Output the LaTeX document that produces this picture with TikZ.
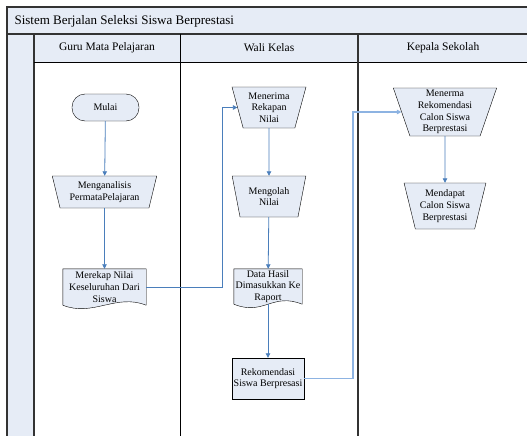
\documentclass[tikz,border=0pt]{standalone}
\usepackage{fontspec}
\setmainfont{Liberation Serif}
\usetikzlibrary{shapes.geometric,arrows.meta,backgrounds}
\definecolor{lanefill}{HTML}{E6ECF6}
\definecolor{flowblue}{HTML}{4A7EBB}
\definecolor{lightflow}{HTML}{8DB3E2}
\definecolor{framegray}{HTML}{333333}
\begin{document}
\begin{tikzpicture}[
    x=1pt, y=-1pt,
    every node/.style={font=\fontsize{10}{11.6}\selectfont, align=center},
    box/.style={draw, fill=lanefill, inner sep=1pt},
    terminal/.style={box, rounded corners=13pt, minimum width=67pt, minimum height=27pt},
    manual/.style={box, trapezium, shape border rotate=180, trapezium stretches=true,
      trapezium angle=73.5, inner sep=0pt},
    docbox/.style={inner sep=0pt},
    lanehead/.style={font=\fontsize{11.5}{13}\selectfont},
    flow/.style={draw=flowblue, line width=0.8pt, -{Triangle[length=4.5pt,width=4.5pt]}},
    longflow/.style={flow, draw=lightflow, line width=1.1pt},
  ]
  \useasboundingbox (0,0) rectangle (527,436);
  \clip (0,0) rectangle (527,436);

  % pool and lanes
  \fill[lanefill] (7,7) rectangle (540,34);
  \fill[lanefill] (34,34) rectangle (540,62);
  \fill[lanefill] (7,34) rectangle (34,450);
  \draw[framegray, line width=1.6pt] (7,450) -- (7,7) -- (540,7);
  \draw[framegray, line width=1.2pt] (7,34) -- (540,34);
  \draw[framegray, line width=1.2pt] (34,34) -- (34,450);
  \draw[line width=0.8pt] (34,62) -- (540,62);
  \draw[line width=0.8pt] (180,34) -- (180,450);
  \draw[framegray, line width=1.6pt] (358,34) -- (358,450);

  \node[anchor=west, font=\fontsize{13}{15}\selectfont] (judul) at (11,21) {Sistem Berjalan Seleksi Siswa Berprestasi};
  \node[lanehead] (guru) at (107,48) {Guru Mata Pelajaran};
  \node[lanehead] (wali) at (269,48) {Wali Kelas};
  \node[lanehead] (kepsek) at (443,48) {Kepala Sekolah};

  % guru mata pelajaran
  \node[terminal] (mulai) at (105.5,107.5) {Mulai};
  \node[manual, minimum width=105pt, minimum height=32pt] (analisis) at (104.5,192) {Menganalisis\\PermataPelajaran};
  \node[docbox, minimum width=83pt, minimum height=36pt] (rekap) at (104.5,287) {Merekap Nilai\\Keseluruhan Dari\\Siswa};

  % wali kelas
  \node[manual, minimum width=74pt, minimum height=41pt] (terima) at (269,107.5) {Menerima\\Rekapan\\Nilai};
  \node[manual, minimum width=74pt, minimum height=41pt] (olah) at (269,196.5) {Mengolah\\Nilai};
  \node[docbox, minimum width=68pt, minimum height=35pt] (raport) at (268,286.5) {Data Hasil\\Dimasukkan Ke\\Raport};
  \node[box, minimum width=72pt, minimum height=41pt] (rekom) at (268,378.5) {Rekomendasi\\Siswa Berpresasi};

  % kepala sekolah
  \node[manual, minimum width=104pt, minimum height=48pt] (terimarek) at (445,112) {Menerma\\Rekomendasi\\Calon Siswa\\Berprestasi};
  \node[manual, minimum width=82pt, minimum height=46pt] (dapat) at (445,206) {Mendapat\\Calon Siswa\\Berprestasi};

  \begin{scope}[on background layer]
    \foreach \d in {rekap,raport}
      \draw[fill=lanefill] (\d.north west) -- (\d.north east) -- (\d.south east)
        .. controls +(-30,-12) and +(30,12) .. (\d.south west) -- cycle;
  \end{scope}

  \coordinate (bendA) at (222,0);
  \coordinate (bendB) at (353,0);

  \draw[flow] (mulai) -- (analisis);
  \draw[flow] (analisis) -- (rekap);
  \draw[flow] (rekap.east) -| (bendA |- terima.west) -- (terima.west);
  \draw[flow] (terima) -- (olah);
  \draw[flow] (olah) -- (raport);
  \draw[flow] (raport.south) -- (rekom);
  \draw[longflow] (rekom.east) -| (bendB |- terimarek.west) -- (terimarek.west);
  \draw[flow] (terimarek) -- (dapat);
\end{tikzpicture}
\end{document}
